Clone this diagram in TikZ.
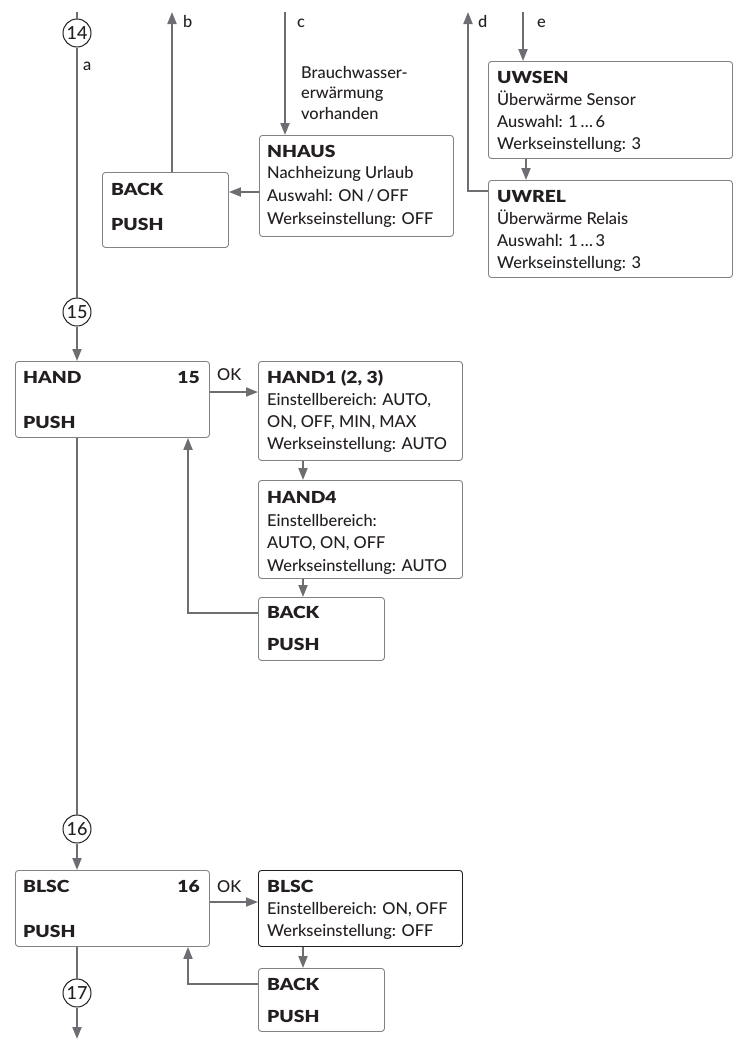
\documentclass[tikz,border=0pt]{standalone}
\usepackage{fontspec}
\setmainfont{Lato Medium}
\newfontfamily\hdfont{Lato Black}[FakeStretch=1.16]
\usetikzlibrary{arrows.meta}
\definecolor{ln}{HTML}{6D6E71}
\definecolor{bx}{HTML}{808285}
\definecolor{tx}{HTML}{231F20}
\begin{document}
\begin{tikzpicture}[x=1pt,y=-1pt,
 box/.style={draw=bx, line width=0.9pt, rounded corners=3pt, anchor=north west, inner sep=0pt},
 conn/.style={draw=ln, line width=1.8pt},
 arr/.style={conn, -{Triangle[length=12pt,width=9pt]}},
 txt/.style={anchor=base west, inner sep=0pt, text=tx, font=\fontsize{16.4}{18}\selectfont},
 bt/.style={anchor=base west, inner sep=0pt, text=tx, font=\fontsize{16.6}{18}\selectfont\hdfont},
 btr/.style={anchor=base east, inner sep=0pt, text=tx, font=\fontsize{16.6}{18}\selectfont\hdfont},
 num/.style={draw=tx, circle, line width=1pt, minimum size=28pt, inner sep=0pt, font=\fontsize{18}{18}\selectfont, text=tx}]
\useasboundingbox (0,0) rectangle (733,1042);

% ---------- boxes ----------
\node[box, minimum width=126pt, minimum height=75pt] (back0) at (102,172) {};
\node[box, minimum width=194pt, minimum height=101pt] (nhaus) at (259,135) {};
\node[box, minimum width=244pt, minimum height=97pt] (uwsen) at (488,61) {};
\node[box, minimum width=244pt, minimum height=97pt] (uwrel) at (488,180) {};
\node[box, minimum width=194pt, minimum height=76pt] (hand) at (15,361) {};
\node[box, minimum width=204pt, minimum height=99pt] (hand1) at (258,361) {};
\node[box, minimum width=204pt, minimum height=98pt] (hand4) at (258,480) {};
\node[box, minimum width=126pt, minimum height=63pt] (back1) at (258,597) {};
\node[box, minimum width=194pt, minimum height=76pt] (blsc) at (15,870) {};
\node[box, draw=tx, minimum width=204pt, minimum height=76pt] (blsc2) at (258,870) {};
\node[box, minimum width=126pt, minimum height=63pt] (back2) at (258,968) {};

% ---------- circles ----------
\node[num] (c14) at (77,33) {14};
\node[num] (c15) at (77,312) {15};
\node[num] (c16) at (77,829) {16};
\node[num] (c17) at (77,993) {17};

% ---------- free ends ----------
\coordinate (top14) at (77,12);
\coordinate (bend) at (172,12);
\coordinate (cend) at (285,12);
\coordinate (dend) at (468,12);
\coordinate (eend) at (523,12);
\coordinate (end17) at (77,1039);

% ---------- texts ----------
\node[txt] (la) at (83,70) {a};
\node[txt] (lb) at (183,27) {b};
\node[txt] (lc) at (297,27) {c};
\node[txt] (ld) at (478,27) {d};
\node[txt] (le) at (537,27) {e};
\node[txt] (br1) at (301,78) {Brauchwasser-};
\node[txt] (br2) at (301,98) {erwärmung};
\node[txt] (br3) at (301,119) {vorhanden};

\node[bt] at (111,195) {BACK};
\node[bt] at (111,230) {PUSH};

\node[bt]  at (267,157) {NHAUS};
\node[txt] at (267,178) {Nachheizung Urlaub};
\node[txt] at (267,201) {Auswahl: ON\,/\,OFF};
\node[txt] at (267,224) {Werkseinstellung: OFF};

\node[bt]  at (497,83) {UWSEN};
\node[txt] at (497,105) {Überwärme Sensor};
\node[txt] at (497,127) {Auswahl: 1\,…\,6};
\node[txt] at (497,149) {Werkseinstellung: 3};

\node[bt]  at (497,202) {UWREL};
\node[txt] at (497,224) {Überwärme Relais};
\node[txt] at (497,246) {Auswahl: 1\,…\,3};
\node[txt] at (497,268) {Werkseinstellung: 3};

\node[bt]  at (23,383) {HAND};
\node[btr] at (200,383) {15};
\node[bt]  at (23,428) {PUSH};
\node[txt] (ok1) at (217,380) {OK};

\node[bt]  at (267,383) {HAND1 (2, 3)};
\node[txt] at (267,405) {Einstellbereich: AUTO,};
\node[txt] at (267,427) {ON, OFF, MIN, MAX};
\node[txt] at (267,449) {Werkseinstellung: AUTO};

\node[bt]  at (267,503) {HAND4};
\node[txt] at (267,526) {Einstellbereich:};
\node[txt] at (267,548) {AUTO, ON, OFF};
\node[txt] at (267,571) {Werkseinstellung: AUTO};

\node[bt] at (267,618) {BACK};
\node[bt] at (267,650) {PUSH};

\node[bt]  at (23,892) {BLSC};
\node[btr] at (200,892) {16};
\node[bt]  at (23,937) {PUSH};
\node[txt] (ok2) at (217,892) {OK};

\node[bt]  at (267,892) {BLSC};
\node[txt] at (267,914) {Einstellbereich: ON, OFF};
\node[txt] at (267,936) {Werkseinstellung: OFF};

\node[bt] at (267,990) {BACK};
\node[bt] at (267,1022) {PUSH};

% ---------- connectors ----------
\draw[conn] (top14) -- (c14.north);
\draw[conn] (c14.south) -- (c15.north);
\draw[arr] (c15.south) -- (hand.north -| c15);
\draw[conn] (hand.south -| c15) -- (c16.north);
\draw[arr] (c16.south) -- (blsc.north -| c16);
\draw[conn] (blsc.south -| c16) -- (c17.north);
\draw[arr] (c17.south) -- (end17);

\draw[arr] (back0.north -| bend) -- (bend);
\draw[arr] (cend) -- (nhaus.north -| cend);
\draw[arr] (nhaus.west |- 0,192) -- (back0.east |- 0,192);
\draw[arr] (uwrel.west |- 0,191) -- (468,191) -- (dend);
\draw[arr] (eend) -- (uwsen.north -| eend);
\draw[arr] (uwsen.south -| 526,0) -- (uwrel.north -| 526,0);

\draw[arr] (hand.east |- 0,392) -- (hand1.west |- 0,392);
\draw[arr] (hand1.south -| 303,0) -- (hand4.north -| 303,0);
\draw[arr] (hand4.south -| 303,0) -- (back1.north -| 303,0);
\draw[arr] (back1.west |- 0,613) -- (188,613) -- (hand.south -| 188,0);

\draw[arr] (blsc.east |- 0,902) -- (blsc2.west |- 0,902);
\draw[arr] (blsc2.south -| 303,0) -- (back2.north -| 303,0);
\draw[arr] (back2.west |- 0,984) -- (188,984) -- (blsc.south -| 188,0);
\end{tikzpicture}
\end{document}
